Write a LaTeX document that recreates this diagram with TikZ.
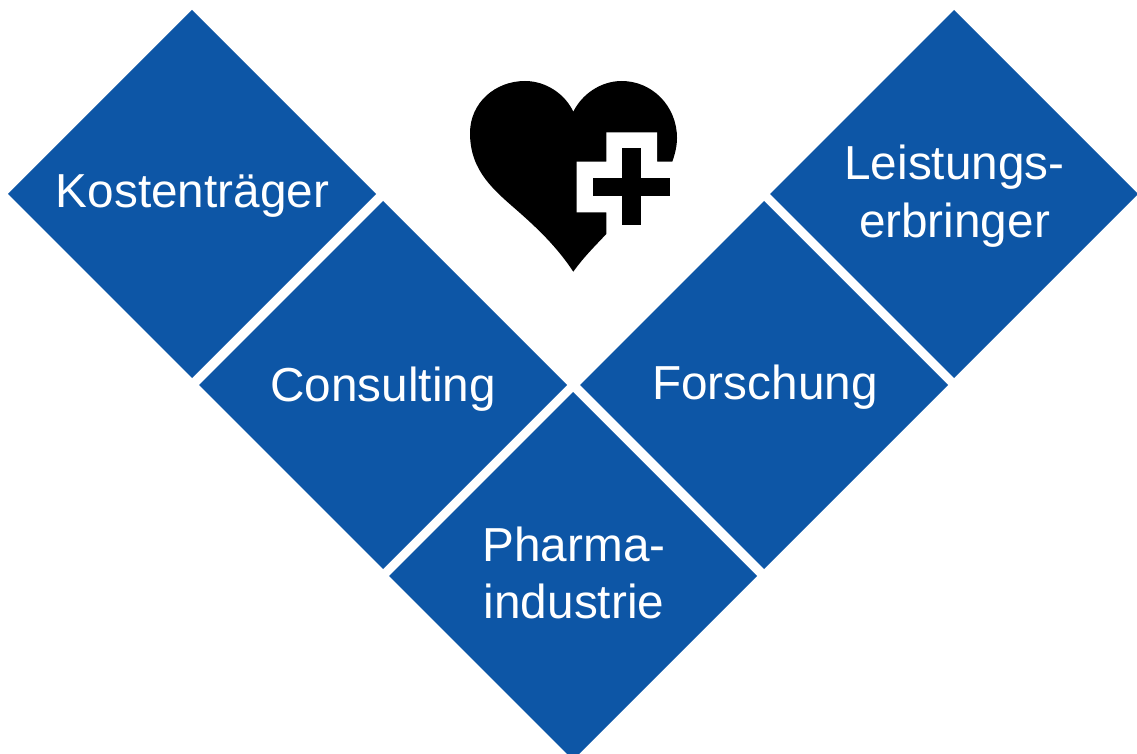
\documentclass[tikz,border=0pt]{standalone}
\usepackage{fontspec}
\setmainfont{Liberation Sans}
\definecolor{dblue}{HTML}{0D56A6}
\tikzset{
 dia/.style={fill=dblue,draw=none},
 lbl/.style={text=white,font=\fontsize{47.7pt}{57.5pt}\selectfont,align=center,inner sep=0pt},
}
\begin{document}
\begin{tikzpicture}[x=1pt,y=-1pt,line join=miter]
\useasboundingbox (0,0) rectangle (1137,754);
\def\D#1#2{\fill[dia] (#1-184,#2) -- (#1,#2-184) -- (#1+184,#2) -- (#1,#2+184) -- cycle;}
\D{192}{194}\D{383}{385}\D{573}{576}\D{764}{385}\D{954}{194}
\node[lbl] (k) at (192.5,196) {Kostenträger};
\node[lbl] (c) at (383,389) {Consulting};
\node[lbl] (f) at (765,387) {Forschung};
\node[lbl] (p) at (574,573) {Pharma-\\industrie};
\node[lbl] (l) at (954.5,196) {Leistungs-\\erbringer};
\fill[black] (573.3,271.7) .. controls (557,247) and (538,229) .. (520,213) .. controls (495,191) and (470,172) .. (470,133) .. controls (470,103) and (495,81) .. (525,81) .. controls (546,81) and (565,94) .. (573.3,111.7) .. controls (582,94) and (601,81) .. (621.7,81) .. controls (652,81) and (677,106) .. (677,138) .. controls (677,146) and (675,154) .. (672.3,161.7) -- (672.3,234) -- (606.3,234) .. controls (594,247) and (583,258) .. (573.3,271.7) -- cycle;
\fill[white] (657,132.3) -- (657,161.7) -- (685,161.7) -- (685,240) -- (606.3,240) -- (606.3,212.3) -- (576.7,212.3) -- (576.7,161.7) -- (606.3,161.7) -- (606.3,132.3) -- cycle;
\fill[black] (622.3,148.3) rectangle (641,225.3);
\fill[black] (593,177.7) rectangle (670.3,196);
\end{tikzpicture}
\end{document}
